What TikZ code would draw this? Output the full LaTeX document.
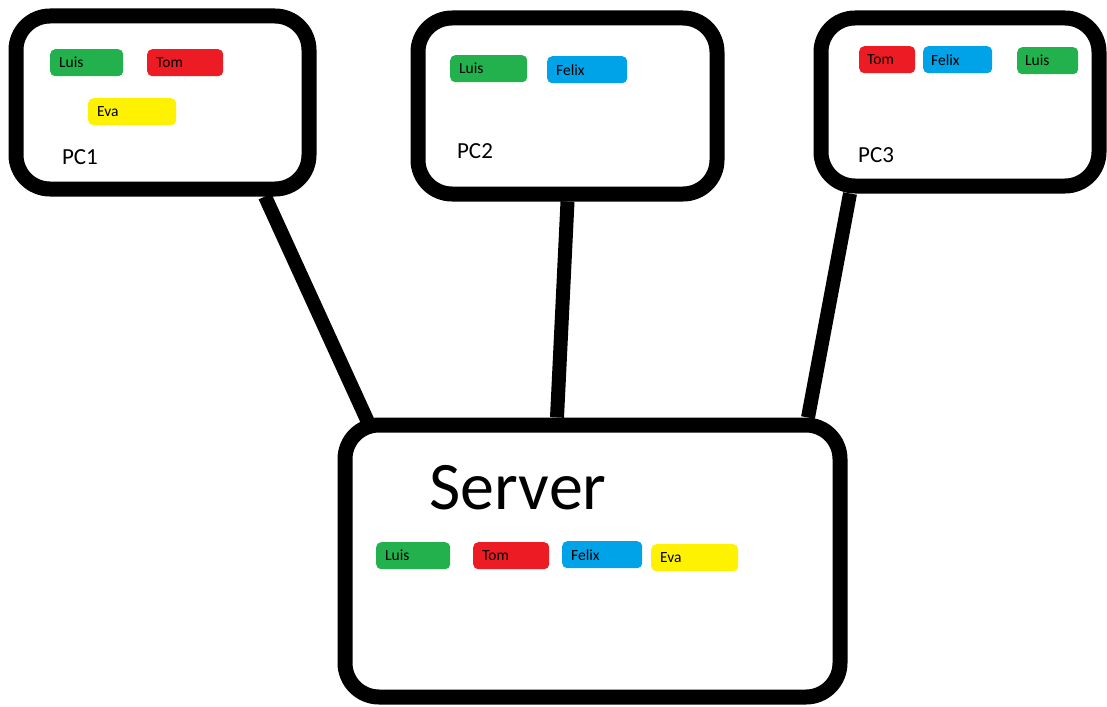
\documentclass[tikz,border=0pt]{standalone}
\usepackage{fontspec}
\setmainfont{Carlito}
\usetikzlibrary{positioning,calc,backgrounds}

\definecolor{luisgreen}{HTML}{22B14C}
\definecolor{tomred}{HTML}{ED1C24}
\definecolor{felixblue}{HTML}{00A2E8}
\definecolor{evayellow}{HTML}{FFF200}

\tikzset{
  pcbox/.style={draw, line width=15pt, rounded corners=34pt, fill=white, inner sep=0pt},
  wire/.style={line width=14pt},
  tag/.style={fill=#1, rounded corners=5pt, minimum height=27pt, inner xsep=9pt, inner ysep=0pt,
    anchor=north west, align=left, font=\fontsize{15.5}{18}\selectfont},
  pcname/.style={font=\fontsize{23}{27}\selectfont},
}

\begin{document}
\begin{tikzpicture}[x=1pt, y=-1pt]
\useasboundingbox (0,0) rectangle (1107,706);

% machines
\node[pcbox, minimum width=293pt, minimum height=173pt] (pc1) at (162.5,102.5) {};
\node[pcbox, minimum width=299pt, minimum height=176pt] (pc2) at (567.5,106) {};
\node[pcbox, minimum width=278pt, minimum height=168pt] (pc3) at (960,102) {};
\node[pcbox, minimum width=495pt, minimum height=272pt] (server) at (592.5,561) {};

% links to the server, kept behind the boxes
\begin{scope}[on background layer]
\draw[wire] ([xshift=102.5pt]pc1.south) -- ([xshift=-222pt,yshift=-10pt]server.north);
\draw[wire] (pc2.south) -- ([xshift=-35.5pt]server.north);
\draw[wire] ([xshift=-110pt]pc3.south) -- ([xshift=215.5pt]server.north);
\end{scope}

% names
\node[pcname] (pc1name) at (80,157) {PC1};
\node[pcname] (pc2name) at (475,151) {PC2};
\node[pcname] (pc3name) at (876,155) {PC3};
\node[font=\fontsize{68}{80}\selectfont] (servername) at (518,488) {Server};

% users on each machine: name/colour/x/y/width
\foreach \who/\clr/\x/\y/\w [count=\i] in {Luis/luisgreen/50/49/73, Tom/tomred/147/49/76, Eva/evayellow/88/98/88}{
  \pgfmathsetmacro\tw{\w-18}
  \node[tag=\clr, text width=\tw pt] (pc1user\i) at (\x,\y) {\who};
}
\foreach \who/\clr/\x/\y/\w [count=\i] in {Luis/luisgreen/450/55/77, Felix/felixblue/547/56/80}{
  \pgfmathsetmacro\tw{\w-18}
  \node[tag=\clr, text width=\tw pt] (pc2user\i) at (\x,\y) {\who};
}
\foreach \who/\clr/\x/\y/\w [count=\i] in {Tom/tomred/859/46/56, Felix/felixblue/923/46/69, Luis/luisgreen/1017/47/61}{
  \pgfmathsetmacro\tw{\w-16}
  \node[tag=\clr, text width=\tw pt, inner xsep=8pt] (pc3user\i) at (\x,\y) {\who};
}
\foreach \who/\clr/\x/\y/\w [count=\i] in {Luis/luisgreen/376/542/74, Tom/tomred/473/542/76, Felix/felixblue/562/541/80, Eva/evayellow/651/544/87}{
  \pgfmathsetmacro\tw{\w-18}
  \node[tag=\clr, text width=\tw pt] (srvuser\i) at (\x,\y) {\who};
}
\end{tikzpicture}
\end{document}
